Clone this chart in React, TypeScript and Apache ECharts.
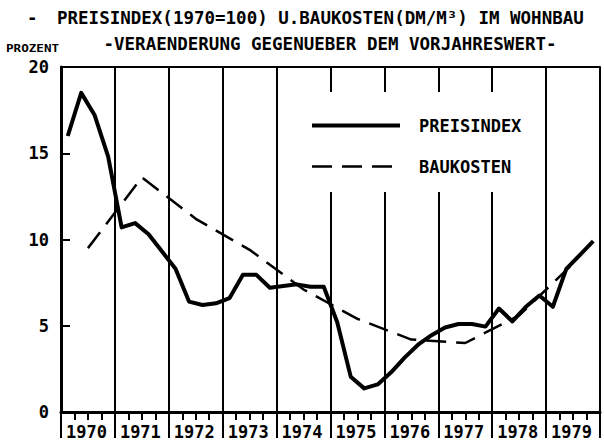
import React, { useEffect, useRef } from "react";
import * as echarts from "echarts";

const years = [1970, 1971, 1972, 1973, 1974, 1975, 1976, 1977, 1978, 1979];
const yTickValues = [0, 5, 10, 15, 20];
// Quarterly values (Feb, May, Aug, Nov) — Preisindex, % change vs previous year
const preisindex = [
  16.0, 18.5, 17.2, 14.8,
  10.7, 10.95, 10.3, 9.3,
  8.3, 6.4, 6.2, 6.3,
  6.6, 7.95, 7.95, 7.2,
  7.3, 7.4, 7.26, 7.26,
  5.2, 2.05, 1.37, 1.6,
  2.3, 3.15, 3.9, 4.45,
  4.9, 5.1, 5.1, 4.95,
  6.0, 5.25, 6.1, 6.75,
  6.1, 8.3, 9.1, 9.9,
];
// Annual values (mid-year) — Baukosten DM/m³
const baukosten = [9.5, 13.6, 11.2, 9.4, 7.1, 5.4, 4.2, 4.0, 5.6, 8.6];
const seriesNames = ["PREISINDEX", "BAUKOSTEN"];
const titleLine1 = "PREISINDEX(1970=100) U.BAUKOSTEN(DM/M³) IM WOHNBAU";
const titleLine2 = "-VERAENDERUNG GEGENUEBER DEM VORJAHRESWERT-";
const unitLabel = "PROZENT";

export default function App() {
  const ref = useRef<HTMLDivElement>(null);
  useEffect(() => {
    if (!ref.current) return;
    const chart = echarts.init(ref.current, null, { renderer: "svg" });
    const mono = '"DejaVu Sans Mono", monospace';
    const pData = preisindex.map((v, i) => [years[0] + (i + 0.5) / 4, v]);
    const bData = baukosten.map((v, i) => [years[i] + 0.5, v]);
    const black = "#000";
    const transparent = "rgba(0,0,0,0)";
    chart.setOption({
      animation: false,
      backgroundColor: "#fff",
      grid: { left: 61, right: 4, top: 67, bottom: 31 },
      xAxis: [
        {
          type: "value",
          min: 1970,
          max: 1980,
          interval: 1,
          position: "bottom",
          axisLine: { show: true, onZero: false, lineStyle: { color: black, width: 3 } },
          axisTick: { show: true, length: 26, lineStyle: { color: black, width: 2 } },
          minorTick: { show: true, splitNumber: 4, length: 8, lineStyle: { color: black, width: 2 } },
          splitLine: { show: true, lineStyle: { color: black, width: 2 } },
          axisLabel: {
            show: true,
            showMaxLabel: false,
            formatter: (v: number) => (years.indexOf(Math.round(v)) >= 0 ? String(Math.round(v)) : ""),
            align: "left",
            padding: [0, 0, 0, 5],
            margin: 11,
            color: black,
            fontFamily: mono,
            fontWeight: "bold",
            fontSize: 17,
          },
        },
        {
          type: "value",
          min: 1970,
          max: 1980,
          position: "top",
          axisLine: { show: true, onZero: false, lineStyle: { color: black, width: 2 } },
          axisTick: { show: false },
          axisLabel: { show: false },
          splitLine: { show: false },
        },
      ],
      yAxis: {
        type: "value",
        min: yTickValues[0],
        max: yTickValues[yTickValues.length - 1],
        interval: 5,
        axisLine: { show: true, onZero: false, lineStyle: { color: black, width: 3 } },
        axisTick: { show: true, inside: true, length: 9, lineStyle: { color: black, width: 2 } },
        splitLine: { show: false },
        axisLabel: {
          margin: 12,
          color: black,
          fontFamily: mono,
          fontWeight: "bold",
          fontSize: 17,
        },
      },
      legend: {
        orient: "vertical",
        left: 305,
        top: 92,
        itemWidth: 88,
        itemHeight: 14,
        itemGap: 24,
        selectedMode: false,
        backgroundColor: "#fff",
        padding: [25, 11, 17, 5],
        data: [
          { name: seriesNames[0], lineStyle: { width: 4, color: black } },
          { name: seriesNames[1], lineStyle: { width: 2.5, color: black, type: [20, 10] } },
        ],
        itemStyle: { color: transparent, borderColor: transparent, borderWidth: 0 },
        formatter: (name: string) => "{t|" + name + "}",
        textStyle: {
          color: black,
          rich: {
            t: {
              padding: [0, 0, 0, 14],
              fontFamily: mono,
              fontWeight: "bold",
              fontSize: 17,
              color: black,
            },
          },
        },
      },
      graphic: [
        {
          type: "text",
          x: 27,
          y: 18,
          style: { text: "-", fontFamily: mono, fontWeight: "bold", fontSize: 17.5, fill: black, align: "left", verticalAlign: "middle" },
        },
        {
          type: "text",
          x: 57,
          y: 18,
          style: { text: titleLine1, fontFamily: mono, fontWeight: "bold", fontSize: 17.5, fill: black, align: "left", verticalAlign: "middle" },
        },
        {
          type: "text",
          x: 330,
          y: 44,
          style: { text: titleLine2, fontFamily: mono, fontWeight: "bold", fontSize: 17.5, fill: black, align: "center", verticalAlign: "middle" },
        },
        {
          type: "text",
          x: 6,
          y: 48,
          scaleX: 1.26,
          style: { text: unitLabel, fontFamily: mono, fontWeight: "bold", fontSize: 10, fill: black, align: "left", verticalAlign: "middle" },
        },
      ],
      series: [
        {
          name: seriesNames[0],
          type: "line",
          data: pData,
          xAxisIndex: 0,
          symbol: "none",
          showSymbol: false,
          z: 3,
          lineStyle: { color: black, width: 4, join: "round" },
          itemStyle: { color: black },
        },
        {
          name: seriesNames[1],
          type: "line",
          data: bData,
          xAxisIndex: 0,
          symbol: "none",
          showSymbol: false,
          z: 2,
          lineStyle: { color: black, width: 2.5, type: [20, 10] },
          itemStyle: { color: black },
        },
      ],
    });
    return () => chart.dispose();
  }, []);
  return <div ref={ref} style={{ position: "fixed", left: 0, top: 0, width: 604, height: 443 }} />;
}
